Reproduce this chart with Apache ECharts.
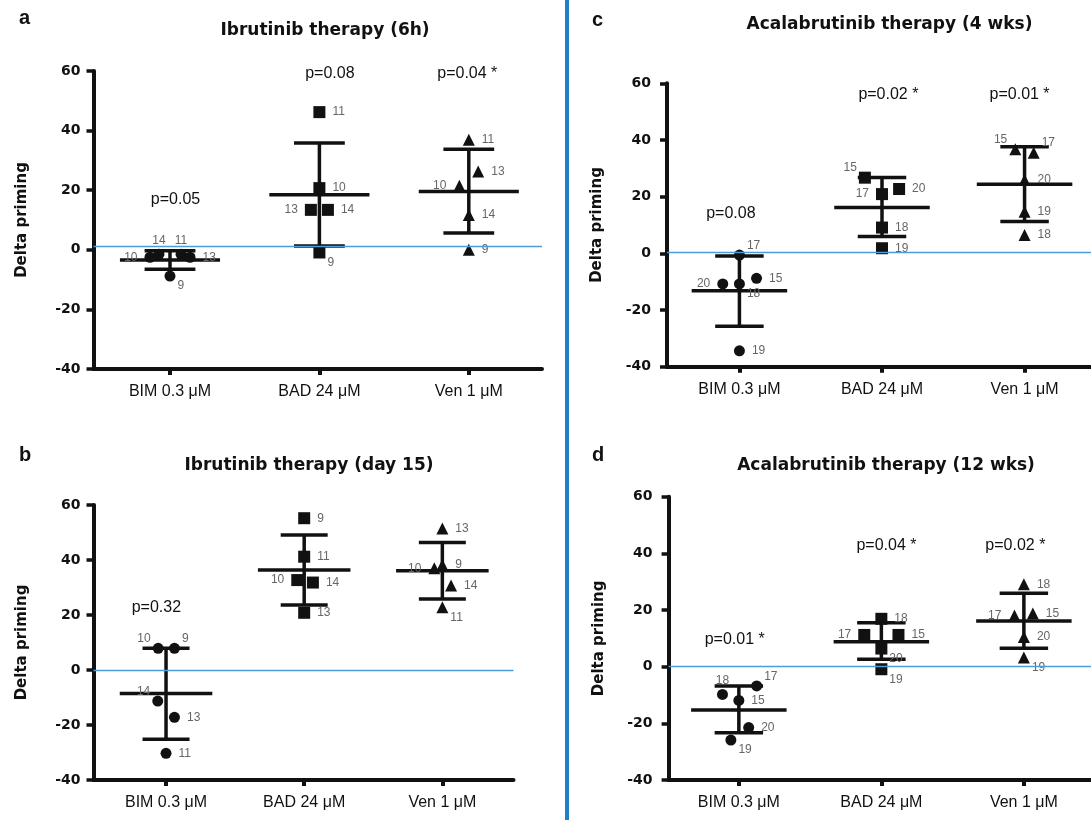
<!DOCTYPE html>
<html>
<head>
<meta charset="utf-8">
<script src="https://cdn.jsdelivr.net/npm/echarts@6/dist/echarts.min.js"></script>
<style>
  html, body { margin: 0; padding: 0; background: #fff; }
  #chart { width: 1091px; height: 820px; }
</style>
</head>
<body>
<div id="chart"></div>
<script>
// categories and y scale
var cats = ['BIM 0.3 μM', 'BAD 24 μM', 'Ven 1 μM'];
var yMin = -40, yMax = 60, yStep = 20;

// a: Ibrutinib 6h  (patient ids, values, horizontal jitter, mean/SD)
var aTitle = 'Ibrutinib therapy (6h)';
var aIds  = [[10, 14, 11, 13, 9], [11, 10, 13, 14, 9], [11, 13, 10, 14, 9]];
var aVals = [[-2.5, -1.5, -1.5, -2.5, -8.8], [46.2, 20.7, 13.4, 13.4, -0.9], [36.9, 26.3, 21.5, 11.7, 0]];
var aJit  = [[-0.134, -0.074, 0.074, 0.134, 0], [0, 0, -0.057, 0.057, 0], [0, 0.063, -0.063, 0, 0]];
var aMean = [-3.4, 18.5, 19.6];
var aLo   = [-6.5, 1.3, 5.6];
var aHi   = [-0.3, 35.8, 33.7];
var aP    = ['p=0.05', 'p=0.08', 'p=0.04 *'];
var aRef  = 1.3;

// b: Ibrutinib day 15
var bTitle = 'Ibrutinib therapy (day 15)';
var bIds  = [[10, 9, 14, 13, 11], [9, 11, 10, 14, 13], [13, 10, 9, 14, 11]];
var bVals = [[7.9, 7.9, -11.3, -17.2, -30.3], [55.2, 41.2, 32.7, 31.8, 20.8], [51.5, 37, 38.2, 30.7, 22.8]];
var bJit  = [[-0.057, 0.061, -0.06, 0.061, 0], [0, 0, -0.05, 0.063, 0], [0, -0.058, 0, 0.063, 0]];
var bMean = [-8.5, 36.4, 36.1];
var bLo   = [-25.2, 23.6, 25.8];
var bHi   = [7.9, 49.1, 46.4];
var bP    = ['p=0.32', 'p=0.003 **', 'p=0.001 **'];
var bRef  = 0;

// c: Acalabrutinib 4 wks
var cTitle = 'Acalabrutinib therapy (4 wks)';
var cIds  = [[17, 20, 18, 15, 19], [15, 20, 17, 18, 19], [15, 17, 20, 19, 18]];
var cVals = [[-0.6, -10.8, -10.8, -8.8, -34.4], [26.7, 22.7, 20.9, 9.1, 1.8], [36.7, 35.5, 25.9, 14.7, 6.5]];
var cJit  = [[0, -0.117, 0, 0.12, 0], [-0.12, 0.12, 0, 0, 0], [-0.065, 0.064, 0, 0, 0]];
var cMean = [-13.2, 16.2, 24.4];
var cLo   = [-25.7, 5.9, 11.2];
var cHi   = [-0.9, 26.8, 37.6];
var cP    = ['p=0.08', 'p=0.02 *', 'p=0.01 *'];
var cRef  = 0.3;

// d: Acalabrutinib 12 wks
var dTitle = 'Acalabrutinib therapy (12 wks)';
var dIds  = [[17, 18, 15, 20, 19], [18, 17, 15, 20, 19], [18, 17, 15, 20, 19]];
var dVals = [[-6.8, -9.8, -11.9, -21.5, -25.9], [16.9, 11.2, 11.2, 6.4, -0.9], [29.1, 18.1, 18.8, 10.5, 3.2]];
var dJit  = [[0.125, -0.115, 0, 0.069, -0.056], [0, -0.12, 0.12, 0, 0], [0, -0.066, 0.063, 0, 0]];
var dMean = [-15.3, 8.8, 16.1];
var dLo   = [-23.3, 2.6, 6.5];
var dHi   = [-6.8, 15.5, 25.9];
var dP    = ['p=0.01 *', 'p=0.04 *', 'p=0.02 *'];
var dRef  = 0;

// where the p-value text sits (axis units) and which side each id label goes
var aPx = [0.037, 1.07, 1.99],  aPy = [16.8, 59, 59];
var bPx = [-0.07, 1.094, 2.043], bPy = [22.8, 64, 64];
var cPx = [-0.06, 1.045, 1.965], cPy = [14.1, 55.9, 55.9];
var dPx = [-0.029, 1.036, 1.94], dPy = [9.6, 42.6, 42.6];
var aSide = [['l', 't', 't', 'r', 'br'], ['r', 'r', 'l', 'r', 'br'], ['r', 'r', 'l', 'r', 'r']];
var bSide = [['tl', 'tr', 'tl', 'r', 'r'], ['r', 'r', 'l', 'r', 'r'], ['r', 'l', 'r', 'r', 'br']];
var cSide = [['tr', 'l', 'br', 'r', 'r'], ['tl', 'r', 'l', 'r', 'r'], ['tl', 'tr', 'r', 'r', 'r']];
var dSide = [['tr', 't', 'r', 'r', 'br'], ['r', 'l', 'r', 'br', 'br'], ['r', 'l', 'r', 'r', 'br']];

var panels = [
  { letter: 'a', title: aTitle, ids: aIds, vals: aVals, jit: aJit, mean: aMean, lo: aLo, hi: aHi, p: aP, px: aPx, py: aPy, ref: aRef, side: aSide,
    box: { left: 93.5, top: 71, width: 448.5, height: 298 }, xr: [-0.512, 2.49], labM: 13, gap: 64, t: [320, 17], l: [14, 3] },
  { letter: 'b', title: bTitle, ids: bIds, vals: bVals, jit: bJit, mean: bMean, lo: bLo, hi: bHi, p: bP, px: bPx, py: bPy, ref: bRef, side: bSide,
    box: { left: 93.5, top: 505, width: 420, height: 275 }, xr: [-0.525, 2.515], labM: 13, gap: 64, t: [304, 452], l: [14, 440] },
  { letter: 'c', title: cTitle, ids: cIds, vals: cVals, jit: cJit, mean: cMean, lo: cLo, hi: cHi, p: cP, px: cPx, py: cPy, ref: cRef, side: cSide,
    box: { left: 667, top: 83.3, width: 424, height: 283.4 }, xr: [-0.508, 2.466], labM: 16, gap: 62, t: [884.5, 11], l: [587, 5] },
  { letter: 'd', title: dTitle, ids: dIds, vals: dVals, jit: dJit, mean: dMean, lo: dLo, hi: dHi, p: dP, px: dPx, py: dPy, ref: dRef, side: dSide,
    box: { left: 668.6, top: 496.7, width: 422.4, height: 283.3 }, xr: [-0.493, 2.471], labM: 16, gap: 62, t: [881, 452], l: [587, 440] }
];

var symbols = ['circle', 'rect', 'triangle'];
var symSize = [11, 12, 12];
var ink = '#111';

function idLabel(side) {
  var base = { show: true, color: '#666', fontSize: 12, fontFamily: 'Liberation Sans, Arial', distance: 7,
               formatter: function (p) { return p.value[2]; } };
  var extra;
  switch (side) {
    case 'l': extra = { position: 'left' }; break;
    case 't': extra = { position: 'top', distance: 2 }; break;
    case 'b': extra = { position: 'bottom', distance: 2 }; break;
    case 'tr': extra = { position: ['100%', '0%'], align: 'left', verticalAlign: 'bottom', offset: [2, 2] }; break;
    case 'tl': extra = { position: ['0%', '0%'], align: 'right', verticalAlign: 'bottom', offset: [-2, 2] }; break;
    case 'br': extra = { position: ['100%', '100%'], align: 'left', verticalAlign: 'top', offset: [2, -2] }; break;
    default: extra = { position: 'right' };
  }
  return Object.assign(base, extra);
}

function errorBars(params, api) {
  var x = api.value(0), m = api.value(1), lo = api.value(2), hi = api.value(3);
  var st = { stroke: ink, lineWidth: 3.5 };
  function seg(x1, y1, x2, y2) {
    var a = api.coord([x1, y1]), b = api.coord([x2, y2]);
    return { type: 'line', shape: { x1: a[0], y1: a[1], x2: b[0], y2: b[1] }, style: st };
  }
  return { type: 'group', children: [
    seg(x, lo, x, hi),
    seg(x - 0.335, m, x + 0.335, m),
    seg(x - 0.17, lo, x + 0.17, lo),
    seg(x - 0.17, hi, x + 0.17, hi)
  ] };
}

var grid = [], xAxis = [], yAxis = [], series = [], title = [];

panels.forEach(function (pn, gi) {
  grid.push(Object.assign({ containLabel: false }, pn.box));

  xAxis.push({
    type: 'value', gridIndex: gi, min: pn.xr[0], max: pn.xr[1],
    splitLine: { show: false },
    axisLine: { show: true, onZero: false, lineStyle: { color: ink, width: 4 } },
    axisTick: { show: true, length: 6, customValues: [0, 1, 2], lineStyle: { color: ink, width: 4 } },
    axisLabel: { customValues: [0, 1, 2], margin: 15, color: '#111', fontSize: 16, fontFamily: 'Liberation Sans, Arial',
                 formatter: function (v) { return cats[Math.round(v)]; } }
  });

  yAxis.push({
    type: 'value', gridIndex: gi, min: yMin, max: yMax, interval: yStep,
    name: 'Delta priming', nameLocation: 'middle', nameGap: pn.gap,
    nameTextStyle: { color: '#111', fontSize: 15, fontWeight: 'bold', fontFamily: 'DejaVu Sans' },
    splitLine: { show: false },
    axisLine: { show: true, onZero: false, lineStyle: { color: ink, width: 4 } },
    axisTick: { show: true, length: 7, lineStyle: { color: ink, width: 3.5 } },
    axisLabel: { margin: pn.labM, color: '#111', fontSize: 14, fontWeight: 'bold', fontFamily: 'DejaVu Sans' }
  });

  title.push({ text: pn.title, left: pn.t[0], top: pn.t[1], textAlign: 'center',
               textStyle: { color: '#111', fontSize: 17, fontWeight: 'bold', fontFamily: 'DejaVu Sans' } });
  title.push({ text: pn.letter, left: pn.l[0], top: pn.l[1],
               textStyle: { color: '#111', fontSize: 20, fontWeight: 'bold', fontFamily: 'Liberation Sans, Arial' } });

  // mean ± SD bars
  series.push({
    type: 'custom', xAxisIndex: gi, yAxisIndex: gi, silent: true, z: 3,
    encode: { x: 0, y: [1, 2, 3] },
    data: pn.mean.map(function (m, k) { return [k, m, pn.lo[k], pn.hi[k]]; }),
    renderItem: errorBars,
    markLine: {
      silent: true, symbol: 'none', label: { show: false },
      lineStyle: { color: '#4a9cdc', width: 1.4, type: 'solid', opacity: 1 },
      data: [{ yAxis: pn.ref }]
    }
  });

  // individual patients
  pn.vals.forEach(function (grp, k) {
    series.push({
      type: 'scatter', xAxisIndex: gi, yAxisIndex: gi, silent: true, z: 4,
      symbol: symbols[k], symbolSize: symSize[k],
      itemStyle: { color: ink, opacity: 1 },
      data: grp.map(function (v, j) {
        return { value: [k + pn.jit[k][j], v, pn.ids[k][j]], label: idLabel(pn.side[k][j]) };
      })
    });
  });

  // p-values
  series.push({
    type: 'scatter', xAxisIndex: gi, yAxisIndex: gi, silent: true, z: 5,
    symbolSize: 1, itemStyle: { color: 'rgba(255,255,255,0)', opacity: 1 },
    label: { show: true, position: 'inside', color: '#111', opacity: 1, fontSize: 16, fontFamily: 'Liberation Sans, Arial',
             formatter: function (p) { return p.value[2]; } },
    data: pn.p.map(function (txt, k) { return [pn.px[k], pn.py[k], txt]; })
  });
});

var chart = echarts.init(document.getElementById('chart'), null, { renderer: 'canvas' });
chart.setOption({
  backgroundColor: '#fff',
  animation: false,
  title: title,
  grid: grid,
  xAxis: xAxis,
  yAxis: yAxis,
  series: series,
  graphic: [
    { type: 'rect', shape: { x: 565, y: 0, width: 4, height: 820 }, style: { fill: '#1f80c8' }, silent: true }
  ]
});
</script>
</body>
</html>
